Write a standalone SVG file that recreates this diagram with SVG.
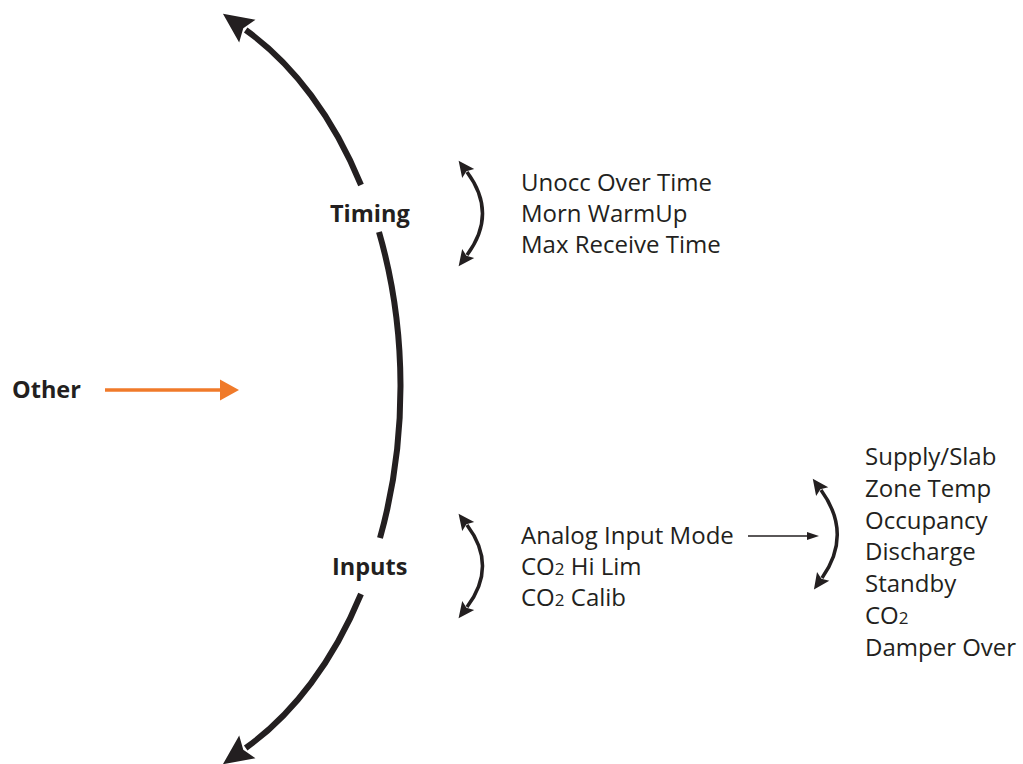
<svg xmlns="http://www.w3.org/2000/svg" width="1023" height="764" viewBox="0 0 1023 764">
<style>
.t{font-family:"Open Sans","Noto Sans","Liberation Sans",sans-serif;font-size:24px;fill:#231f20}
.b{font-weight:bold;font-size:23.5px}
.big{fill:none;stroke:#231f20;stroke-width:6}
.mid{fill:none;stroke:#231f20;stroke-width:3.5}
.thin{fill:none;stroke:#231f20;stroke-width:1.6}
.s2{font-size:17px}
</style>
<defs>
<marker id="bigHead" markerUnits="userSpaceOnUse" markerWidth="34" markerHeight="34" refX="2" refY="14" orient="auto" overflow="visible">
<polygon points="0,0 30,14 0,28 5,14" fill="#231f20"/>
</marker>
<marker id="midHead" markerUnits="userSpaceOnUse" markerWidth="20" markerHeight="20" refX="2" refY="7.5" orient="auto-start-reverse" overflow="visible">
<polygon points="0,0 16,7.5 0,15 3,7.5" fill="#231f20"/>
</marker>
<marker id="thinHead" markerUnits="userSpaceOnUse" markerWidth="14" markerHeight="10" refX="0" refY="4" orient="auto" overflow="visible">
<polygon points="0,0 12,4 0,8" fill="#231f20"/>
</marker>
</defs>
<g id="connectors">
<path class="big" d="M 361 185 A 276 400 0 0 0 245.7 30" marker-end="url(#bigHead)"/>
<path class="big" d="M 379 232 A 276 400 0 0 1 380 538"/>
<path class="big" d="M 361 594 A 276 400 0 0 1 245.7 748" marker-end="url(#bigHead)"/>
<path class="mid" d="M 467 172 Q 498 213.5 467 255" marker-start="url(#midHead)" marker-end="url(#midHead)"/>
<path class="mid" d="M 467 525 Q 498 566 467 607" marker-start="url(#midHead)" marker-end="url(#midHead)"/>
<path class="mid" d="M 821 490 Q 853 534 822 578" marker-start="url(#midHead)" marker-end="url(#midHead)"/>
<path class="thin" d="M 748 536 L 807 536" marker-end="url(#thinHead)"/>
<path d="M 105 390 L 222 390" fill="none" stroke="#f07a2a" stroke-width="3.5"/>
<polygon points="220,379.5 239,390 220,400.5" fill="#f07a2a"/>
</g>
<g id="timing"><text class="t b" x="330" y="222">Timing</text></g>
<g id="inputs"><text class="t b" x="332" y="575">Inputs</text></g>
<g id="other"><text class="t b" x="12" y="398">Other</text></g>
<g id="timing-list">
<text class="t" x="521" y="191">Unocc Over Time</text>
<text class="t" x="521" y="222">Morn WarmUp</text>
<text class="t" x="521" y="253">Max Receive Time</text>
</g>
<g id="inputs-list">
<text class="t" x="521" y="544">Analog Input Mode</text>
<text class="t" x="521" y="575">CO<tspan class="s2">2</tspan> Hi Lim</text>
<text class="t" x="521" y="606">CO<tspan class="s2">2</tspan> Calib</text>
</g>
<g id="mode-list">
<text class="t" x="865" y="465">Supply/Slab</text>
<text class="t" x="865" y="497">Zone Temp</text>
<text class="t" x="865" y="528.5">Occupancy</text>
<text class="t" x="865" y="560">Discharge</text>
<text class="t" x="865" y="592">Standby</text>
<text class="t" x="865" y="624">CO<tspan class="s2">2</tspan></text>
<text class="t" x="865" y="656">Damper Over</text>
</g>
</svg>
